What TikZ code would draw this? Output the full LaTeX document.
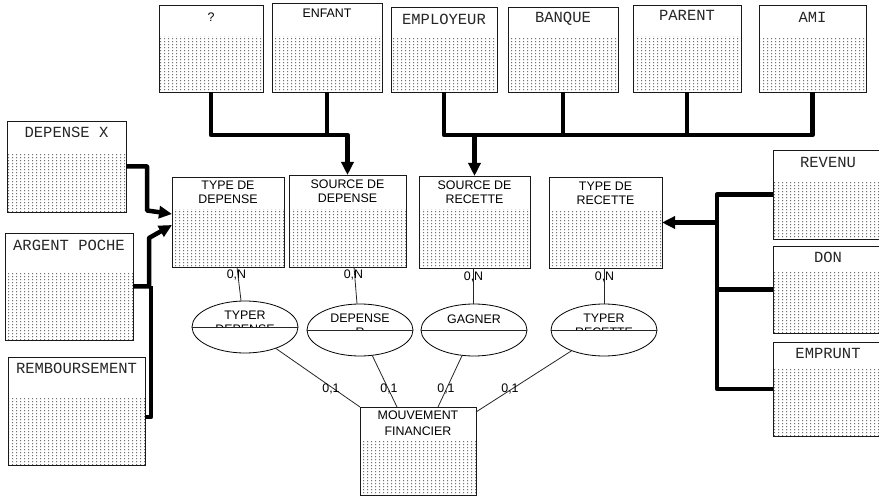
\documentclass[tikz,border=0pt]{standalone}
\usepackage{fontspec}
\setmainfont{Liberation Sans}
\newfontfamily\monof{Liberation Mono}
\usetikzlibrary{shapes.geometric,arrows.meta,patterns,calc}
\pgfdeclarepatternformonly{erdots}{\pgfqpoint{0pt}{0pt}}{\pgfqpoint{3.7pt}{3.2pt}}{\pgfqpoint{3.7pt}{3.2pt}}{\pgfpathrectangle{\pgfqpoint{1.2pt}{1.1pt}}{\pgfqpoint{1.05pt}{1.05pt}}\pgfusepath{fill}}
\tikzset{
 ebox/.style={draw=black!90, line width=0.9pt, inner sep=0pt, outer sep=0pt},
 dotsarea/.style={pattern=erdots, pattern color=black!85},
 stxt/.style={font=\fontsize{12.4}{14}\selectfont, inner sep=0pt, align=center},
 mtxt/.style={font=\monof\fontsize{15.5}{18}\selectfont, inner sep=0pt, text=black!85},
 card/.style={font=\fontsize{12.4}{14}\selectfont, inner sep=0pt},
 assoc/.style={draw, ellipse, line width=0.8pt, minimum width=106pt, minimum height=52pt, inner sep=0pt},
 link/.style={line width=0.8pt, draw=black!85},
 isa/.style={line width=4.5pt, line join=round},
 tip/.style={-{Triangle[length=13pt,width=12pt]}},
}
\newcommand\erent[6]{%
 \fill[white] (#2,#3) rectangle (#4,#5);
 \fill[dotsarea] (#2,#6) rectangle (#4,#5);
 \node[ebox, minimum width={(#4-#2)*1pt}, minimum height={(#5-#3)*1pt}] (#1) at ({(#2+#4)/2},{(#3+#5)/2}) {};}
\begin{document}
\begin{tikzpicture}[x=1pt,y=-1pt]
\useasboundingbox (0,0) rectangle (879,497);
\fill[white] (0,0) rectangle (879,497);
\clip (0,0) rectangle (879,497);

% top row
\erent{q}{159}{5}{263}{92}{37}
\erent{enf}{272}{3}{382}{92}{37}
\erent{emp}{391}{7}{497}{92}{39}
\erent{ban}{508}{7}{618}{92}{39}
\erent{par}{633}{5}{741}{92}{37}
\erent{ami}{759}{5}{866}{92}{39}
\node[stxt] (q-t) at (q.center |- 0,17) {?};
\node[stxt] (enf-t) at (enf.center |- 0,13) {ENFANT};
\node[mtxt] (emp-t) at (emp.center |- 0,19) {EMPLOYEUR};
\node[mtxt] (ban-t) at (ban.center |- 0,19) {BANQUE};
\node[mtxt] (par-t) at (par.center |- 0,15) {PARENT};
\node[mtxt] (ami-t) at (ami.center |- 0,17) {AMI};

% left column
\erent{dx}{7}{121}{126}{212}{155}
\erent{ap}{5}{233}{133}{340}{273}
\erent{rb}{8}{357}{145}{465}{397}
\node[mtxt] (dx-t) at (dx.center |- 0,132) {DEPENSE X};
\node[mtxt] (ap-t) at (ap.center |- 0,245) {ARGENT POCHE};
\node[mtxt] (rb-t) at (rb.center |- 0,368) {REMBOURSEMENT};

% middle entities
\erent{tdd}{172}{177}{284}{267}{210}
\erent{sdd}{289}{175}{406}{267}{210}
\erent{sdr}{419}{176}{530}{268}{210}
\erent{tdr}{549}{177}{662}{268}{212}
\erent{mf}{360}{407}{476}{495}{440}
\node[stxt] (tdd-t) at (tdd.center |- 0,192) {TYPE DE\\DEPENSE};
\node[stxt] (sdd-t) at (sdd.center |- 0,191.5) {SOURCE DE\\DEPENSE};
\node[stxt] (sdr-t) at (sdr.center |- 0,192.5) {SOURCE DE\\RECETTE};
\node[stxt] (tdr-t) at (tdr.center |- 0,193.5) {TYPE DE\\RECETTE};
\node[stxt, font=\fontsize{12.4}{16}\selectfont] (mf-t) at (mf.center |- 0,423) {MOUVEMENT\\FINANCIER};

% right column
\erent{rev}{773}{150}{883}{239}{183}
\erent{don}{773}{246}{883}{333}{273}
\erent{emr}{773}{342}{883}{436}{368}
\node[mtxt] (rev-t) at (rev.center |- 0,162) {REVENU};
\node[mtxt] (don-t) at (don.center |- 0,257) {DON};
\node[mtxt] (emr-t) at (emr.center |- 0,353) {EMPRUNT};

% associations
\node[assoc] (ted) at (245,327) {};
\node[assoc] (dep) at (360,330) {};
\node[assoc] (gag) at (474,330) {};
\node[assoc] (ter) at (604,330) {};
\foreach \a in {ted,dep,gag,ter} {\draw[link] (\a.west) -- (\a.east);}
\begin{scope}
 \clip (ted.west) rectangle (ted.north -| ted.east);
 \node[stxt] (ted-t) at (245,322.5) {TYPER\\DEPENSE};
\end{scope}
\begin{scope}
 \clip (dep.west) rectangle (dep.north -| dep.east);
 \node[stxt] (dep-t) at (360,325) {DEPENSE\\R};
\end{scope}
\node[stxt] (gag-t) at (474,319) {GAGNER};
\begin{scope}
 \clip (ter.west) rectangle (ter.north -| ter.east);
 \node[stxt] (ter-t) at (604,325) {TYPER\\RECETTE};
\end{scope}

% links entity - association
\draw[link] ([xshift=9pt]tdd.south) -- ([xshift=-4pt]ted.north);
\draw[link] ([xshift=6.5pt]sdd.south) -- ([xshift=-3pt]dep.north);
\draw[link] ([xshift=-1.5pt]sdr.south) -- ([xshift=-1pt]gag.north);
\draw[link] ([xshift=-1.5pt]tdr.south) -- (ter.north);
\draw[link] (ted) -- (mf.north west);
\draw[link] (dep) -- ([xshift=-21pt]mf.north);
\draw[link] (gag) -- ([xshift=20pt]mf.north);
\draw[link] (ter) -- ([yshift=-5pt]mf.north east);

% cardinalities
\node[card] (c1) at (236.5,275) {0,N};
\node[card] (c2) at (353.5,275) {0,N};
\node[card] (c3) at (473.5,277) {0,N};
\node[card] (c4) at (604.5,277) {0,N};
\node[card] (c5) at (331,389) {0,1};
\node[card] (c6) at (389,389) {0,1};
\node[card] (c7) at (446,389) {0,1};
\node[card] (c8) at (510,389) {0,1};

% generalisation connectors (top)
\coordinate (busT) at (0,135);
\draw[isa,tip] (q.south) |- (sdd.north |- busT) -- (sdd.north);
\draw[isa] (enf.south) -- (enf.south |- busT);
\draw[isa] (emp.south) |- (ami.south |- busT) -- (ami.south);
\draw[isa] (ban.south) -- (ban.south |- busT);
\draw[isa] (par.south) -- (par.south |- busT);
\draw[isa,tip] (sdr.north |- busT) -- (sdr.north);

% right
\coordinate (busR) at (717,0);
\draw[isa] (rev.west) -- (rev.west -| busR) -- (emr.west -| busR) -- (emr.west);
\draw[isa] (don.west) -- (don.west -| busR);
\draw[isa,tip] (tdr.east -| busR) -- (tdr.east);

% left
\coordinate (busL1) at (147,0);
\coordinate (busL2) at (149,0);
\coordinate (busL3) at (151,0);
\draw[isa,tip] (dx.east) -- (dx.east -| busL1) -- ($(dx.east -| busL1)+(0,44)$) -- ($(tdd.west)+(0,-8)$);
\draw[isa,tip] (ap.east) -- (ap.east -| busL2) -- ($(busL2)+(0,238)$) -- ($(tdd.west)+(0,3)$);
\draw[isa] ($(rb.east)+(0,6)$) -- ($(rb.east -| busL3)+(0,6)$) -- (busL3 |- ap.east);
\end{tikzpicture}
\end{document}
